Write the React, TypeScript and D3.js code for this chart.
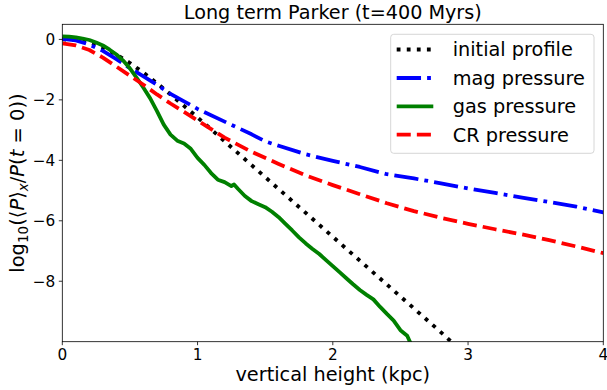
import React from "react";
import * as d3 from "d3";

const initialX = [0, 0.1, 0.2, 0.3, 0.4, 0.5, 0.6, 0.7, 0.8, 0.9, 1.0, 1.2, 1.4, 1.6, 1.8, 2.0, 2.2, 2.4, 2.6, 2.8, 2.9];
const initialY = [0, -0.02, -0.1, -0.27, -0.5, -0.78, -1.1, -1.45, -1.82, -2.2, -2.58, -3.37, -4.16, -4.95, -5.74, -6.53, -7.32, -8.11, -8.9, -9.69, -10.1];

const magX = [0, 0.1, 0.2, 0.3, 0.4, 0.5, 0.6, 0.7, 0.8, 0.9, 1.0, 1.2, 1.4, 1.5, 1.6, 1.8, 2.0, 2.2, 2.4, 2.6, 2.8, 3.0, 3.2, 3.4, 3.6, 3.8, 4.0];
const magY = [0.02, -0.03, -0.17, -0.38, -0.65, -0.95, -1.22, -1.5, -1.8, -2.05, -2.3, -2.72, -3.14, -3.37, -3.52, -3.8, -4.02, -4.22, -4.46, -4.6, -4.76, -4.93, -5.08, -5.23, -5.38, -5.53, -5.72];

const gasX = [0, 0.05, 0.1, 0.15, 0.2, 0.25, 0.3, 0.35, 0.4, 0.45, 0.5, 0.55, 0.6, 0.65, 0.7, 0.75, 0.8, 0.85, 0.9, 0.95, 1.0, 1.05, 1.1, 1.15, 1.2, 1.25, 1.27, 1.3, 1.35, 1.4, 1.45, 1.5, 1.55, 1.6, 1.65, 1.7, 1.75, 1.8, 1.85, 1.9, 1.95, 2.0, 2.05, 2.1, 2.15, 2.2, 2.25, 2.3, 2.35, 2.4, 2.45, 2.5, 2.55, 2.6];
const gasY = [0.1, 0.09, 0.07, 0.03, -0.02, -0.1, -0.2, -0.34, -0.5, -0.7, -0.96, -1.27, -1.6, -1.95, -2.37, -2.82, -3.15, -3.35, -3.44, -3.62, -3.92, -4.15, -4.42, -4.64, -4.72, -4.85, -4.8, -4.95, -5.18, -5.35, -5.45, -5.55, -5.7, -5.88, -6.1, -6.32, -6.55, -6.75, -6.93, -7.1, -7.3, -7.5, -7.7, -7.9, -8.1, -8.29, -8.45, -8.6, -8.85, -9.08, -9.3, -9.62, -9.8, -10.3];

const crX = [0, 0.1, 0.2, 0.3, 0.4, 0.5, 0.6, 0.7, 0.8, 0.9, 1.0, 1.2, 1.4, 1.6, 1.8, 2.0, 2.2, 2.4, 2.6, 2.8, 3.0, 3.2, 3.4, 3.6, 3.8, 4.0];
const crY = [-0.13, -0.2, -0.35, -0.6, -0.9, -1.2, -1.5, -1.82, -2.12, -2.4, -2.68, -3.25, -3.72, -4.12, -4.5, -4.82, -5.12, -5.42, -5.68, -5.9, -6.1, -6.28, -6.45, -6.64, -6.85, -7.07];

const xTicks = [0, 1, 2, 3, 4];
const yTicks = [0, -2, -4, -6, -8];
const legendLabels = ["initial profile", "mag pressure", "gas pressure", "CR pressure"];

const FONT = "DejaVu Sans";

export default function App() {
  const W = 607, H = 390;
  const left = 62.3, right = 603.3, top = 24.3, bottom = 341.7;
  const x = d3.scaleLinear().domain([0, 4]).range([left, right]);
  const y = d3.scaleLinear().domain([-10, 0.5]).range([bottom, top]);
  const line = d3.line<[number, number]>().x(d => x(d[0])).y(d => y(d[1]));
  const zip = (a: number[], b: number[]) => a.map((v, i) => [v, b[i]] as [number, number]);

  const lw = 3.8;
  const series = [
    { xs: initialX, ys: initialY, color: "#000000", dash: `${lw} ${lw * 1.65}` },
    { xs: magX, ys: magY, color: "#0000ff", dash: `${lw * 6.4} ${lw * 1.6} ${lw} ${lw * 1.6}` },
    { xs: gasX, ys: gasY, color: "#008000", dash: "none" },
    { xs: crX, ys: crY, color: "#ff0000", dash: `${lw * 3.7} ${lw * 1.6}` },
  ];

  const lgX = 390.7, lgY = 34.3, lgW = 203.3, lgH = 119;
  const rowY = [49.5, 78, 106.3, 134.6];

  return (
    <svg width={W} height={H} style={{ position: "absolute", left: 0, top: 0, background: "#fff" }}>
      <defs>
        <clipPath id="plotclip">
          <rect x={left} y={top} width={right - left} height={bottom - top} />
        </clipPath>
      </defs>
      <rect x={0} y={0} width={W} height={H} fill="#fff" />
      <g clipPath="url(#plotclip)">
        {series.map((s, i) => (
          <path key={i} d={line(zip(s.xs, s.ys)) || ""} fill="none" stroke={s.color}
            strokeWidth={lw} strokeDasharray={s.dash} strokeLinejoin="round" strokeLinecap="butt" />
        ))}
      </g>
      <rect x={left} y={top} width={right - left} height={bottom - top} fill="none" stroke="#000" strokeWidth={0.8} />
      {xTicks.map(t => (
        <g key={"x" + t}>
          <line x1={x(t)} x2={x(t)} y1={bottom} y2={bottom + 3.5} stroke="#000" strokeWidth={0.8} />
          <text x={x(t)} y={bottom + 18.5} textAnchor="middle" fontFamily={FONT} fontSize={15.3} fill="#000">{t}</text>
        </g>
      ))}
      {yTicks.map(t => (
        <g key={"y" + t}>
          <line x1={left - 3.5} x2={left} y1={y(t)} y2={y(t)} stroke="#000" strokeWidth={0.8} />
          <text x={left - 7} y={y(t)} dy="0.36em" textAnchor="end" fontFamily={FONT} fontSize={15.3} fill="#000">{t < 0 ? "\u2212" + Math.abs(t) : t}</text>
        </g>
      ))}
      <text x={(left + right) / 2} y={19} textAnchor="middle" fontFamily={FONT} fontSize={19.2} fill="#000">Long term Parker (t=400 Myrs)</text>
      <text x={(left + right) / 2} y={381} textAnchor="middle" fontFamily={FONT} fontSize={19.3} fill="#000">vertical height (kpc)</text>
      <text transform={`translate(23.5,${(top + bottom) / 2}) rotate(-90)`} textAnchor="middle" fontFamily={FONT} fontSize={19.5} fill="#000">
        <tspan>log</tspan>
        <tspan fontSize={13.5} dy={4}>10</tspan>
        <tspan dy={-4}>(⟨</tspan>
        <tspan fontStyle="italic">P</tspan>
        <tspan>⟩</tspan>
        <tspan fontSize={13.5} fontStyle="italic" dy={4}>x</tspan>
        <tspan dy={-4}>/</tspan>
        <tspan fontStyle="italic">P</tspan>
        <tspan>(</tspan>
        <tspan fontStyle="italic">t</tspan>
        <tspan> = 0))</tspan>
      </text>
      <rect x={lgX} y={lgY} width={lgW} height={lgH} rx={3} ry={3} fill="#fff" fillOpacity={0.8} stroke="#cccccc" strokeWidth={0.8} />
      {series.map((s, i) => (
        <g key={"lg" + i}>
          <line x1={396.7} x2={433.3} y1={rowY[i]} y2={rowY[i]} stroke={s.color} strokeWidth={lw} strokeDasharray={s.dash} />
          <text x={452.7} y={rowY[i]} dy="0.36em" fontFamily={FONT} fontSize={19.3} fill="#000">{legendLabels[i]}</text>
        </g>
      ))}
    </svg>
  );
}
